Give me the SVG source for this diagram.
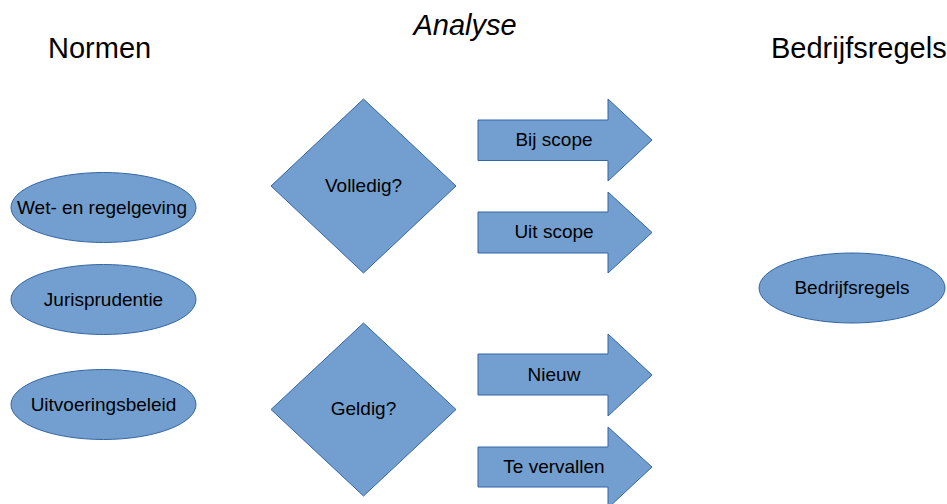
<svg xmlns="http://www.w3.org/2000/svg" width="947" height="504" viewBox="0 0 947 504">
<style>
.s{fill:#729fcf;stroke:#3465a4;stroke-width:1}
.t{font-family:"Liberation Sans",Arial,sans-serif;font-size:19px;fill:#000;text-anchor:middle;dominant-baseline:central}
.h{font-family:"Liberation Sans",Arial,sans-serif;font-size:29px;fill:#000}
</style>
<rect width="947" height="504" fill="#fff"/>
<text class="h" x="48" y="58">Normen</text>
<text class="h" x="465" y="35" text-anchor="middle" font-style="italic">Analyse</text>
<text class="h" x="771" y="58">Bedrijfsregels</text>
<g id="wet"><ellipse class="s" cx="103.5" cy="207.5" rx="92.5" ry="35"/><text class="t" x="102" y="207.5" textLength="170" lengthAdjust="spacingAndGlyphs">Wet- en regelgeving</text></g>
<g id="juris"><ellipse class="s" cx="103.5" cy="299.5" rx="92.5" ry="35"/><text class="t" x="103.5" y="299.5">Jurisprudentie</text></g>
<g id="uitv"><ellipse class="s" cx="103.5" cy="404.5" rx="92.5" ry="35"/><text class="t" x="103.5" y="404.5">Uitvoeringsbeleid</text></g>
<g id="bedrijfsregels"><ellipse class="s" cx="852" cy="288" rx="93" ry="35"/><text class="t" x="852" y="287.5">Bedrijfsregels</text></g>
<g id="volledig"><polygon class="s" points="363.5,99 456,186 363.5,273 271,186"/><text class="t" x="363.5" y="185.5">Volledig?</text></g>
<g id="geldig"><polygon class="s" points="363.5,323 456,409.5 363.5,496 271,409.5"/><text class="t" x="363.5" y="408.5">Geldig?</text></g>
<g id="bij"><polygon class="s" points="478,120 608,120 608,99 652,140 608,181 608,160.5 478,160.5"/><text class="t" x="554" y="139.5">Bij scope</text></g>
<g id="uit"><polygon class="s" points="478,212 608,212 608,192 652,232.5 608,273 608,253 478,253"/><text class="t" x="554" y="231.5">Uit scope</text></g>
<g id="nieuw"><polygon class="s" points="478,354 608,354 608,334 652,375 608,416 608,395 478,395"/><text class="t" x="554" y="374.5">Nieuw</text></g>
<g id="vervallen"><polygon class="s" points="478,447 608,447 608,427 652,467 608,508 608,487 478,487"/><text class="t" x="554" y="466.5">Te vervallen</text></g>
<g id="connectors"></g>
</svg>
